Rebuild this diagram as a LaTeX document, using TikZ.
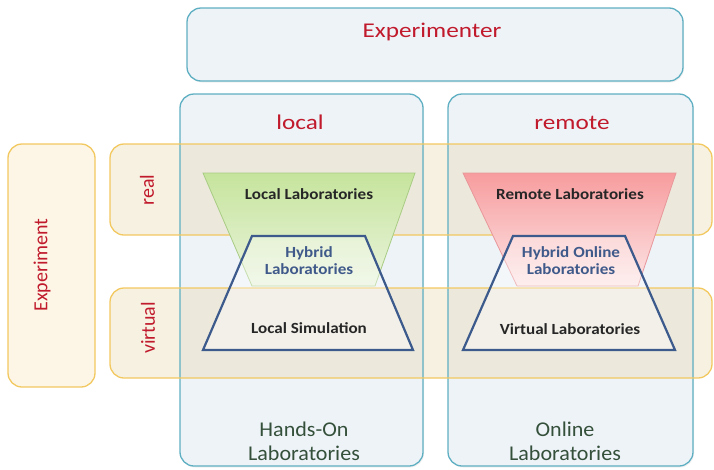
\documentclass[tikz,border=0pt]{standalone}
\usepackage{fontspec}
\setmainfont{Carlito}
\usetikzlibrary{shadows}

\definecolor{labred}{HTML}{C01A2C}
\definecolor{labgreen}{HTML}{34503A}
\definecolor{colfill}{HTML}{EEF3F8}
\definecolor{colline}{HTML}{5EAFC2}
\definecolor{bandfill}{HTML}{EBD9B0}
\definecolor{bandline}{HTML}{F2C860}
\definecolor{expfill}{HTML}{FDF6E6}
\definecolor{trapblue}{HTML}{3C5A8C}
\definecolor{hybtext}{HTML}{3F5A8A}
\definecolor{greentop}{HTML}{C6E49C}
\definecolor{greenbot}{HTML}{EAF4DE}
\definecolor{greenline}{HTML}{A9CC84}
\definecolor{redtop}{HTML}{F79C9E}
\definecolor{redbot}{HTML}{FDE6E6}
\definecolor{redline}{HTML}{E8979A}

\begin{document}
\begin{tikzpicture}[x=1pt,y=-1pt,
  panel/.style={rounded corners=14pt, line width=1.3pt},
  softshadow/.style={drop shadow={opacity=0.12, shadow xshift=1pt, shadow yshift=-1.5pt}},
  head/.style={font=\fontsize{21}{24}\selectfont, text=labred, inner sep=0pt, xscale=1.2},
  side/.style={font=\fontsize{20}{24}\selectfont, text=labred, inner sep=0pt, rotate=90},
  foot/.style={font=\fontsize{21}{24}\selectfont, text=labgreen, inner sep=0pt, xscale=1.05},
  trap/.style={font=\bfseries\fontsize{15.5}{17}\selectfont, text=black!85, inner sep=0pt, xscale=1.1},
  hyb/.style={trap, text=hybtext},
  bluetrap/.style={draw=trapblue, line width=2.2pt, line join=miter}
]
\useasboundingbox (0,0) rectangle (714,469);

% top box, columns and experiment box
\fill[panel, colfill, softshadow] (187,8) rectangle (683,81);
\fill[panel, colfill, softshadow] (180,94) rectangle (423,466);
\fill[panel, colfill, softshadow] (448,94) rectangle (693,466);
\fill[panel, expfill] (8,144) rectangle (95,387);

% translucent bands
\fill[panel, bandfill, opacity=0.38] (110,144) rectangle (712,235);
\fill[panel, bandfill, opacity=0.38] (110,288) rectangle (712,378);

% outlines
\draw[panel, colline] (187,8) rectangle (683,81);
\draw[panel, colline] (180,94) rectangle (423,466);
\draw[panel, colline] (448,94) rectangle (693,466);
\draw[panel, bandline] (8,144) rectangle (95,387);
\draw[panel, bandline] (110,144) rectangle (712,235);
\draw[panel, bandline] (110,288) rectangle (712,378);

% local trapezoids
\shade[top color=greentop, bottom color=greenbot, draw=greenline, line width=0.8pt]
  (203,173) -- (415,173) -- (375,286) -- (252,286) -- cycle;
\fill[white, opacity=0.35] (252,236) -- (365,236) -- (413,350) -- (203,350) -- cycle;
\draw[bluetrap] (252,236) -- (365,236) -- (413,350) -- (203,350) -- cycle;

% remote trapezoids
\shade[top color=redtop, bottom color=redbot, draw=redline, line width=0.8pt]
  (463,173) -- (676,173) -- (638,286) -- (517,286) -- cycle;
\fill[white, opacity=0.35] (513,236) -- (625,236) -- (675,350) -- (463,350) -- cycle;
\draw[bluetrap] (513,236) -- (625,236) -- (675,350) -- (463,350) -- cycle;

% labels
\node[head] (experimenter) at (432,32) {Experimenter};
\node[head] (local) at (300,122) {local};
\node[head] (remote) at (572,123) {remote};
\node[side] (experiment) at (42,265) {Experiment};
\node[side] (real) at (147,190) {real};
\node[side] (virtual) at (148,328) {virtual};

\node[trap] (loclab) at (309,194) {Local Laboratories};
\node[hyb, align=center] (hyblab) at (309,261) {Hybrid\\[0pt]Laboratories};
\node[trap] (locsim) at (309,328) {Local Simulation};

\node[trap] (remlab) at (570,194) {Remote Laboratories};
\node[hyb, align=center] (hybonl) at (571,261) {Hybrid Online\\[0pt]Laboratories};
\node[trap] (virtlab) at (570,329) {Virtual Laboratories};

\node[foot, align=center] (handson) at (304,441) {Hands-On\\Laboratories};
\node[foot, align=center] (online) at (565,441) {Online\\Laboratories};
\end{tikzpicture}
\end{document}
